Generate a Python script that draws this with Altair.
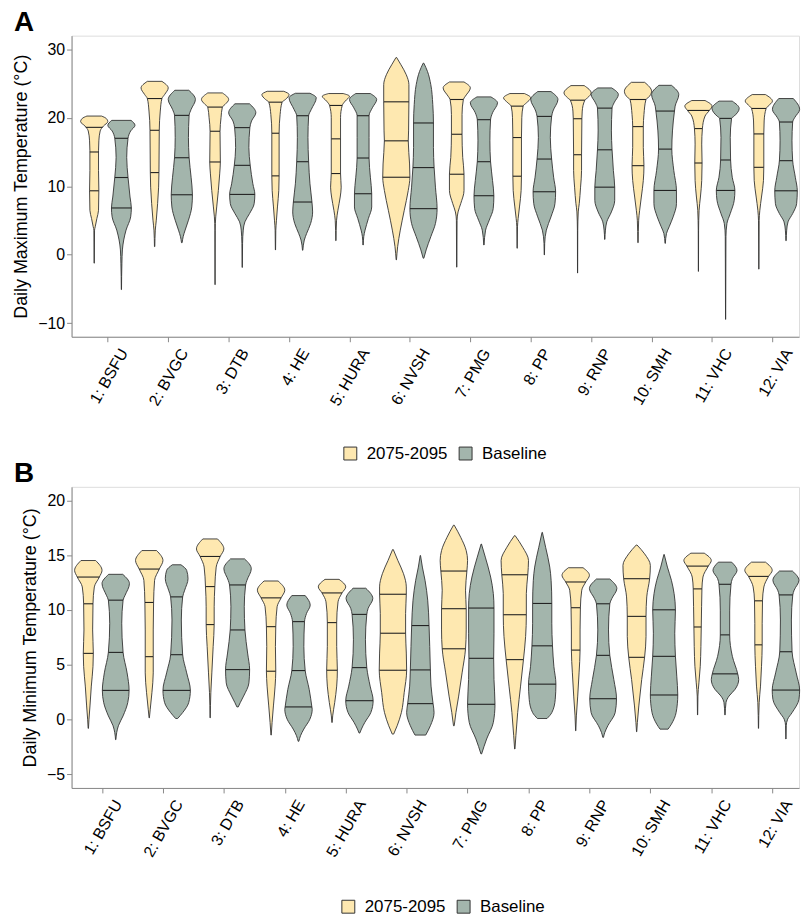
import json
import numpy as np
import pandas as pd
import altair as alt

sites = ["1: BSFU", "2: BVGC", "3: DTB", "4: HE", "5: HURA", "6: NVSH",
         "7: PMG", "8: PP", "9: RNP", "10: SMH", "11: VHC", "12: VIA"]
periods = ["2075-2095", "Baseline"]
period_colors = ["#FEE8B0", "#A3B5AC"]

# ---------- Panel A : daily maximum temperature ----------
# violin profiles: temperature values (bottom -> top) and relative density
tmax_fut_y = [
    [-1.25, 3.58, 4.07, 5.28, 6.48, 9.38, 12.28, 15.18, 16.63, 18.08, 18.8, 19.43, 19.91, 20.25],
    [1.17, 3.58, 5.03, 7.45, 9.86, 11.99, 18.17, 20.98, 22.81, 23.39, 24.36, 25.32],
    [-4.39, 3.58, 5.52, 6.97, 9.38, 11.8, 13.54, 18.03, 20.01, 21.56, 21.94, 22.67, 23.63],
    [0.69, 3.58, 5.03, 6.97, 9.38, 11.51, 17.74, 20.49, 22.28, 22.67, 23.39, 23.87],
    [2.04, 5.03, 6.48, 8.42, 9.86, 11.85, 16.92, 20.01, 21.8, 22.43, 23.15, 23.54],
    [-0.76, 1.17, 3.58, 6.48, 9.38, 11.31, 13.25, 16.63, 18.08, 22.33, 24.84, 26.29, 27.74, 28.8],
    [-1.83, 5.03, 6.24, 7.45, 9.38, 11.75, 14.21, 17.59, 20.49, 22.67, 23.15, 24.36, 25.23],
    [0.93, 4.07, 5.28, 6.97, 9.38, 11.46, 17.11, 20.01, 21.7, 22.18, 22.91, 23.54],
    [-2.69, 3.58, 6.24, 7.45, 9.86, 12.28, 14.6, 19.86, 20.98, 22.57, 22.91, 23.63, 24.7],
    [1.75, 5.03, 6.48, 8.42, 10.83, 13.0, 15.66, 18.71, 20.49, 22.67, 22.91, 23.87, 25.18],
    [-2.45, 3.58, 6.48, 8.42, 10.83, 13.39, 16.15, 18.42, 20.25, 21.07, 21.7, 22.52],
    [-2.12, 5.03, 6.48, 8.42, 10.83, 12.76, 17.64, 19.53, 21.36, 21.7, 22.43, 23.39],
]
tmax_fut_d = [
    [0.3, 1, 3, 8, 13, 14, 13, 13, 14, 18, 28, 41, 36, 22],
    [0.5, 2, 5, 9, 12, 13, 14, 17, 22, 30, 41, 22],
    [0.2, 0.5, 2, 5, 10, 14, 16, 15, 18, 22, 30, 41, 22],
    [0.3, 1, 3, 6, 10, 11, 11, 14, 20, 30, 41, 25],
    [0.3, 2, 6, 13, 16, 14, 14, 14, 19, 28, 41, 22],
    [0.5, 4, 12, 24, 36, 41, 40, 36, 37, 38, 38, 30, 14, 1],
    [0.3, 1, 4, 12, 22, 22, 18, 16, 16, 20, 26, 41, 22],
    [0.3, 1, 3, 7, 12, 13, 13, 14, 18, 28, 41, 22],
    [0.2, 0.5, 2, 5, 9, 12, 12, 13, 14, 22, 30, 41, 20],
    [0.5, 2, 5, 10, 16, 18, 16, 16, 18, 24, 30, 41, 20],
    [0.2, 0.5, 2, 6, 10, 11, 10, 12, 20, 33, 41, 20],
    [0.2, 1, 3, 8, 14, 15, 15, 16, 22, 28, 41, 20],
]
tmax_fut_q = [
    [9.33, 15.0, 18.6], [11.99, 18.17, 22.81], [13.54, 18.03, 21.56], [11.51, 17.74, 22.28],
    [11.85, 16.92, 21.8], [11.31, 16.63, 22.33], [11.75, 17.59, 22.67], [11.46, 17.11, 21.7],
    [14.6, 19.86, 22.57], [13.0, 18.71, 22.67], [13.39, 18.42, 21.07], [12.76, 17.64, 21.36],
]
tmax_base_y = [
    [-5.11, -1.25, 0.69, 2.14, 3.58, 5.52, 6.82, 8.42, 11.27, 14.21, 17.0, 18.08, 18.9, 19.62],
    [1.75, 2.62, 3.58, 5.03, 6.97, 8.75, 11.31, 14.16, 17.11, 20.35, 21.22, 22.67, 24.02],
    [-1.87, 1.65, 3.58, 4.79, 6.0, 7.45, 8.8, 10.35, 13.05, 15.66, 18.56, 19.53, 20.73, 22.04],
    [0.64, 2.14, 3.1, 4.55, 6.24, 7.69, 10.35, 13.58, 17.11, 20.3, 21.22, 22.91, 23.58],
    [1.41, 2.62, 3.58, 5.28, 6.97, 8.9, 11.31, 14.12, 17.11, 20.3, 21.46, 22.67, 23.54],
    [-0.52, 0.69, 2.62, 4.55, 6.72, 9.86, 12.72, 15.66, 19.24, 21.94, 24.84, 26.77, 27.98],
    [1.41, 3.58, 5.03, 6.72, 8.61, 10.83, 13.58, 16.63, 19.72, 20.73, 22.18, 23.05],
    [-0.04, 1.65, 3.58, 5.52, 7.45, 9.19, 11.31, 13.97, 17.11, 20.2, 20.98, 22.67, 23.83],
    [2.23, 3.58, 4.79, 6.24, 7.93, 9.86, 12.28, 15.32, 18.08, 21.41, 22.18, 23.39, 24.36],
    [1.65, 3.1, 4.07, 5.52, 7.45, 9.38, 12.28, 15.42, 18.08, 20.98, 21.7, 23.39, 24.74],
    [-9.46, 2.62, 4.55, 6.0, 7.93, 9.38, 11.31, 13.83, 17.11, 19.91, 20.25, 21.36, 22.43],
    [2.04, 3.58, 4.79, 6.0, 7.45, 9.33, 11.31, 13.73, 16.63, 19.38, 20.01, 21.22, 22.81],
]
tmax_base_d = [
    [0.3, 1.5, 3, 7, 14, 28, 30, 26, 20, 16, 20, 28, 41, 29],
    [1, 4, 10, 20, 30, 32, 28, 22, 20, 22, 28, 41, 21],
    [0.3, 1, 3, 8, 22, 36, 38, 32, 24, 20, 23, 28, 41, 22],
    [0.5, 5, 12, 24, 30, 28, 22, 18, 16, 18, 26, 41, 22],
    [0.5, 2, 6, 16, 26, 26, 22, 18, 18, 18, 28, 41, 22],
    [1, 8, 22, 36, 41, 36, 32, 30, 30, 28, 22, 12, 1],
    [0.5, 5, 16, 28, 30, 26, 20, 18, 20, 26, 41, 21],
    [0.3, 1, 6, 20, 32, 34, 28, 22, 18, 22, 26, 41, 20],
    [0.5, 2, 6, 20, 30, 30, 26, 22, 20, 22, 28, 41, 21],
    [0.5, 4, 12, 24, 34, 34, 26, 20, 22, 28, 30, 41, 19],
    [0.2, 1, 4, 14, 26, 28, 20, 15, 14, 18, 26, 41, 20],
    [0.5, 2, 6, 20, 32, 34, 28, 20, 18, 20, 26, 41, 22],
]
tmax_base_q = [
    [6.82, 11.27, 17.0], [8.75, 14.16, 20.35], [8.8, 13.05, 18.56], [7.69, 13.58, 20.3],
    [8.9, 14.12, 20.3], [6.72, 12.72, 19.24], [8.61, 13.58, 19.72], [9.19, 13.97, 20.2],
    [9.86, 15.32, 21.41], [9.38, 15.42, 20.98], [9.38, 13.83, 19.91], [9.33, 13.73, 19.38],
]

# ---------- Panel B : daily minimum temperature ----------
tmin_fut_y = [
    [-0.81, 0.03, 1.24, 3.05, 4.86, 6.04, 8.18, 10.57, 12.11, 13.01, 13.62, 14.52],
    [0.15, 0.94, 2.45, 4.26, 5.74, 8.18, 10.69, 12.71, 13.74, 14.52, 15.43],
    [0.15, 2.45, 4.26, 6.67, 8.67, 10.3, 12.14, 13.92, 14.89, 15.58, 16.49],
    [-1.42, -0.27, 1.24, 3.05, 4.41, 6.67, 8.48, 10.3, 11.11, 11.81, 12.65],
    [-0.27, 0.33, 1.54, 3.05, 4.5, 6.67, 8.85, 10.75, 11.56, 12.11, 12.8],
    [-1.33, -0.57, 0.63, 2.45, 4.5, 6.07, 7.88, 9.69, 11.44, 12.11, 13.32, 14.52, 15.52],
    [-0.57, 0.63, 2.14, 4.26, 6.46, 8.18, 10.12, 11.81, 13.56, 14.52, 15.43, 16.64, 17.75],
    [-2.69, -1.48, 0.63, 3.05, 5.47, 7.58, 9.57, 11.5, 13.22, 14.52, 15.73, 16.79],
    [-1.03, 0.33, 2.14, 4.26, 6.34, 8.18, 10.21, 11.81, 12.56, 13.17, 13.86],
    [-1.12, -0.27, 1.24, 3.65, 5.68, 7.58, 9.42, 11.2, 12.86, 14.07, 15.13, 15.94],
    [0.42, 2.14, 3.35, 4.86, 6.67, 8.45, 10.3, 11.93, 13.01, 14.01, 14.52, 15.19],
    [-0.81, 1.54, 3.05, 4.86, 6.82, 8.79, 10.84, 12.11, 13.07, 13.62, 14.37],
]
tmin_fut_d = [
    [0.5, 2, 5, 9, 14, 15, 13, 14, 18, 33, 41, 22],
    [0.5, 3, 8, 12, 12, 12, 13, 16, 30, 41, 22],
    [0.3, 2, 5, 9, 12, 12, 14, 18, 30, 41, 22],
    [0.5, 3, 7, 12, 14, 13, 14, 18, 30, 41, 21],
    [0.5, 2, 8, 14, 16, 14, 14, 18, 30, 41, 21],
    [2, 12, 24, 32, 39, 38, 36, 36, 38, 38, 30, 14, 1],
    [1, 6, 14, 24, 34, 36, 36, 34, 38, 40, 36, 20, 1],
    [0.5, 3, 8, 16, 24, 30, 32, 32, 36, 38, 22, 1],
    [0.3, 2, 6, 10, 13, 13, 14, 18, 30, 41, 22],
    [0.3, 2, 6, 14, 22, 26, 26, 28, 36, 38, 22, 1],
    [0.3, 1, 4, 8, 10, 11, 12, 13, 16, 32, 41, 20],
    [0.3, 2, 6, 9, 11, 11, 12, 16, 30, 41, 21],
]
tmin_fut_q = [
    [6.04, 10.57, 13.01], [5.74, 10.69, 13.74], [8.67, 12.14, 14.89], [4.41, 8.48, 11.11],
    [4.5, 8.85, 11.56], [4.5, 7.88, 11.44], [6.46, 10.12, 13.56], [5.47, 9.57, 13.22],
    [6.34, 10.21, 12.56], [5.68, 9.42, 12.86], [8.45, 11.93, 14.01], [6.82, 10.84, 13.07],
]
tmin_base_y = [
    [-1.84, -1.18, -0.57, 0.33, 1.54, 2.66, 4.26, 6.13, 8.79, 10.9, 11.35, 12.41, 13.26],
    [0.09, 0.63, 1.54, 2.66, 4.26, 5.92, 9.09, 11.2, 11.81, 12.86, 13.62, 14.13],
    [1.15, 1.54, 2.14, 3.35, 4.56, 6.07, 8.18, 10.3, 12.29, 12.71, 13.77, 14.67],
    [-1.99, -1.48, -0.87, 0.03, 0.93, 1.15, 2.75, 4.47, 6.67, 8.94, 9.69, 10.45, 11.32],
    [-1.24, -0.87, -0.27, 0.63, 1.72, 3.05, 4.74, 7.28, 9.6, 10.15, 11.05, 11.99],
    [-1.42, -0.57, 0.63, 1.45, 3.05, 4.53, 6.67, 8.58, 10.9, 12.71, 13.92, 14.98],
    [-3.14, -1.78, -0.27, 1.39, 3.65, 5.59, 7.88, 10.18, 11.5, 13.01, 14.83, 16.03],
    [0.09, 0.63, 1.84, 3.23, 4.86, 6.73, 8.79, 10.6, 12.71, 13.92, 15.73, 17.09],
    [-1.63, -1.18, -0.57, 0.63, 1.9, 3.65, 5.86, 8.18, 10.57, 11.05, 11.96, 12.83],
    [-0.88, -0.42, 0.63, 2.24, 3.96, 5.77, 7.88, 10.02, 11.5, 12.71, 13.92, 15.07],
    [0.42, 1.54, 2.14, 2.75, 3.65, 4.17, 5.77, 7.73, 9.99, 12.35, 12.86, 13.62, 14.37],
    [-1.78, -0.57, 0.03, 0.63, 1.84, 2.69, 4.26, 6.19, 9.09, 11.38, 11.81, 12.71, 13.56],
]
tmin_base_d = [
    [0.5, 3, 8, 22, 36, 40, 34, 22, 18, 22, 28, 41, 21],
    [3, 18, 36, 41, 30, 18, 14, 18, 24, 34, 30, 13],
    [2, 8, 18, 34, 36, 30, 22, 20, 24, 28, 41, 21],
    [1, 6, 16, 34, 41, 40, 32, 20, 16, 18, 24, 35, 20],
    [1, 6, 16, 34, 41, 32, 22, 18, 22, 26, 40, 19],
    [16, 30, 41, 38, 32, 30, 28, 26, 22, 14, 6, 0.5],
    [1, 16, 36, 41, 38, 37, 38, 38, 36, 28, 12, 0.5],
    [14, 28, 38, 40, 34, 30, 28, 28, 26, 22, 10, 0.5],
    [1, 5, 14, 36, 40, 32, 20, 16, 20, 26, 41, 20],
    [12, 22, 36, 41, 38, 34, 32, 34, 30, 22, 10, 0.5],
    [0.5, 3, 12, 30, 41, 38, 22, 14, 14, 18, 22, 36, 20],
    [0.3, 1, 5, 18, 38, 40, 30, 18, 16, 20, 24, 38, 19],
]
tmin_base_q = [
    [2.66, 6.13, 10.9], [2.66, 5.92, 11.2], [4.56, 8.18, 12.29], [1.15, 4.47, 8.94],
    [1.72, 4.74, 9.6], [1.45, 4.53, 8.58], [1.39, 5.59, 10.18], [3.23, 6.73, 10.6],
    [1.9, 5.86, 10.57], [2.24, 5.77, 10.02], [4.17, 7.73, 12.35], [2.69, 6.19, 11.38],
]

HALF = 0.225   # half of the dodged violin width (in category units)
DODGE = 0.225  # offset of each period from the site position


def build(fut, base):
    rows, qrows = [], []
    for p, (YS, DS, QS) in enumerate([fut, base]):
        off = -DODGE if p == 0 else DODGE
        for i in range(len(sites)):
            y = np.array(YS[i], float)
            w = np.array(DS[i], float)
            w = w / w.max() * HALF
            c = i + 1 + off
            vid = f"{p}-{i:02d}"
            for yy, ww in zip(y, w):
                rows.append(dict(vid=vid, site=sites[i], period=periods[p],
                                 val=float(yy), xl=float(c - ww), xr=float(c + ww)))
            for qv in QS[i]:
                wq = float(np.interp(qv, y, w))
                qrows.append(dict(site=sites[i], period=periods[p],
                                  val=float(qv), xl=c - wq, xr=c + wq))
    return pd.DataFrame(rows), pd.DataFrame(qrows)


label_expr = json.dumps(sites) + "[datum.value - 1]"
FONT = "Liberation Sans"


def panel(df, qdf, xdom, ydom, yvals, ytitle, letter, lx, ly):
    xenc = alt.X("xl:Q", stack=None,
                 scale=alt.Scale(domain=xdom, nice=False, zero=False),
                 axis=alt.Axis(values=list(range(1, 13)), labelExpr=label_expr,
                               labelAngle=300, labelAlign="right", labelBaseline="top",
                               labelFontSize=16, tickSize=5, labelPadding=4,
                               labelOffset=9, title=None, grid=False))
    yenc = alt.Y("val:Q",
                 scale=alt.Scale(domain=ydom, nice=False, zero=False),
                 axis=alt.Axis(values=yvals, title=ytitle, grid=False, tickSize=5,
                               labelFontSize=16, labelPadding=2, titleFontSize=18,
                               titleFontWeight="normal", titlePadding=7))
    area = alt.Chart(df).mark_area(
        orient="horizontal", interpolate="monotone", stroke="#333333",
        strokeWidth=0.9, opacity=1
    ).encode(
        y=yenc, x=xenc, x2="xr:Q",
        fill=alt.Fill("period:N",
                      scale=alt.Scale(domain=periods, range=period_colors),
                      legend=alt.Legend(orient="none", legendX=lx, legendY=ly,
                                        direction="horizontal", title=None,
                                        symbolType="square", symbolSize=169,
                                        symbolStrokeColor="#333333", symbolStrokeWidth=1,
                                        labelFontSize=17, labelFont=FONT,
                                        labelOffset=8, columnPadding=9, padding=0)),
        detail="vid:N",
    )
    rules = alt.Chart(qdf).mark_rule(color="#222222", strokeWidth=1.1).encode(
        x="xl:Q", x2="xr:Q", y="val:Q")
    return alt.layer(area, rules).properties(
        width=732, height=303,
        title=alt.TitleParams(letter, anchor="start", frame="group", fontSize=28,
                              fontWeight="bold", font=FONT, dx=-58, offset=-1))


dfA, qA = build((tmax_fut_y, tmax_fut_d, tmax_fut_q), (tmax_base_y, tmax_base_d, tmax_base_q))
dfB, qB = build((tmin_fut_y, tmin_fut_d, tmin_fut_q), (tmin_base_y, tmin_base_d, tmin_base_q))

chartA = panel(dfA, qA, [0.4, 12.44], [-12, 32], [-10, 0, 10, 20, 30],
               "Daily Maximum Temperature (°C)", "A", 272, 412)
chartB = panel(dfB, qB, [0.5, 12.44], [-6.25, 21.25], [-5, 0, 5, 10, 15, 20],
               "Daily Minimum Temperature (°C)", "B", 270, 414)

chart = alt.vconcat(chartA, chartB, spacing=151, bounds="flush").resolve_scale(
    x="independent", y="independent", fill="independent"
).properties(
    padding={"left": 12, "top": 5, "right": 0, "bottom": 0}
).configure_view(
    stroke="#888888", strokeWidth=1
).configure_axis(
    domainColor="#333333", tickColor="#333333", labelColor="#000000",
    titleColor="#000000", labelFont=FONT, titleFont=FONT
).configure(background="white")

chart.save("out.html", embed_options={"renderer": "svg", "actions": False})
